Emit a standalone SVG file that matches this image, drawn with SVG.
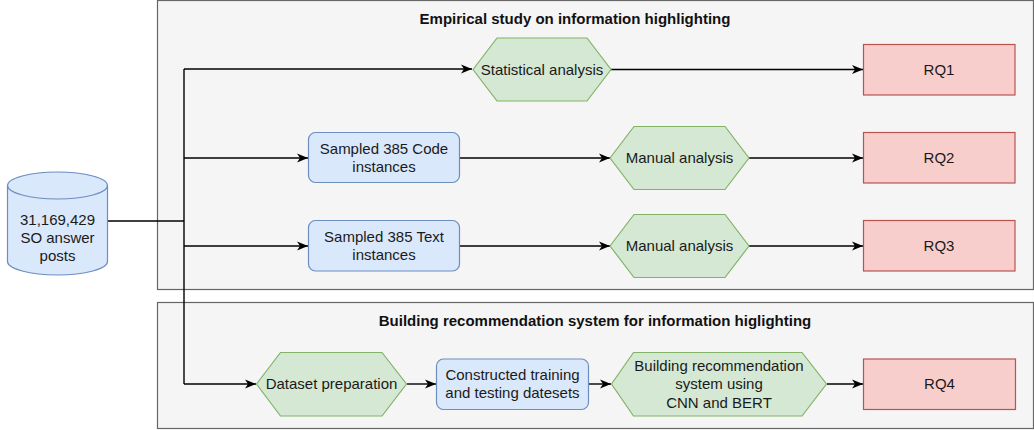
<svg xmlns="http://www.w3.org/2000/svg" width="1034" height="430" viewBox="0 0 1034 430">
<style>
text{font-family:"Liberation Sans",Arial,sans-serif;font-size:15px;fill:#1a1a1a;text-anchor:middle}
.title{font-weight:bold;font-size:15px;fill:#111}
.cont{fill:#f5f5f5;stroke:#666666;stroke-width:1.2}
.blue{fill:#dae8fc;stroke:#6c8ebf;stroke-width:1.2}
.green{fill:#d5e8d4;stroke:#82b366;stroke-width:1.2}
.red{fill:#f8cecc;stroke:#b85450;stroke-width:1.2}
.edge{fill:none;stroke:#000;stroke-width:1.4;}
.arr{marker-end:url(#ah)}
</style>
<defs>
<marker id="ah" markerUnits="userSpaceOnUse" markerWidth="12" markerHeight="10" refX="11" refY="5" orient="auto">
<path d="M0,0.5 L11,5 L0,9.5 L3,5 Z" fill="#000"/>
</marker>
</defs>
<rect width="1034" height="430" fill="#ffffff"/>
<g id="container-empirical">
<rect class="cont" x="157.5" y="0.5" width="876" height="289"/>
<text class="title" x="575" y="24">Empirical study on information highlighting</text>
</g>
<g id="container-building">
<rect class="cont" x="157.5" y="302.5" width="876" height="126"/>
<text class="title" x="595" y="326">Building recommendation system for information higlighting</text>
</g>
<g id="connectors">
<path class="edge" d="M108,221 H184"/>
<path class="edge" d="M184,384 V69"/>
<path class="edge arr" d="M184,69 H472"/>
<path class="edge arr" d="M184,158 H308"/>
<path class="edge arr" d="M184,246 H308"/>
<path class="edge arr" d="M184,384 H256"/>
<path class="edge arr" d="M611,69.5 H863"/>
<path class="edge arr" d="M459,158 H610"/>
<path class="edge arr" d="M749,158 H863"/>
<path class="edge arr" d="M459,246 H610"/>
<path class="edge arr" d="M749,246 H863"/>
<path class="edge arr" d="M407,384 H436"/>
<path class="edge arr" d="M588,384 H611"/>
<path class="edge arr" d="M827,384 H863"/>
</g>
<g id="so-posts">
<path class="blue" d="M7.5,185.5 A50,13.5 0 0 1 107.5,185.5 V261.5 A50,13.5 0 0 1 7.5,261.5 Z"/>
<path class="blue" style="fill:none" d="M7.5,185.5 A50,13.5 0 0 0 107.5,185.5"/>
<text x="57.5" y="224.5">31,169,429</text>
<text x="57.5" y="242.5">SO answer</text>
<text x="57.5" y="260.5">posts</text>
</g>
<g id="statistical-analysis">
<polygon class="green" points="473,69.5 497,38 587,38 611,69.5 587,101 497,101"/>
<text x="542" y="74.5">Statistical analysis</text>
</g>
<g id="rq1">
<rect class="red" x="863.5" y="44.5" width="151.5" height="50.5"/>
<text x="939" y="74.5">RQ1</text>
</g>
<g id="sampled-code">
<rect class="blue" x="308.5" y="132.5" width="151" height="50" rx="7"/>
<text x="384" y="153.5">Sampled 385 Code</text>
<text x="384" y="171.5">instances</text>
</g>
<g id="manual-analysis-1">
<polygon class="green" points="610,158 634,126.5 725,126.5 749,158 725,189.5 634,189.5"/>
<text x="679.5" y="163">Manual analysis</text>
</g>
<g id="rq2">
<rect class="red" x="863.5" y="132.5" width="151.5" height="50.5"/>
<text x="939" y="163">RQ2</text>
</g>
<g id="sampled-text">
<rect class="blue" x="308.5" y="220.5" width="151" height="50.5" rx="7"/>
<text x="384" y="241.5">Sampled 385 Text</text>
<text x="384" y="259.5">instances</text>
</g>
<g id="manual-analysis-2">
<polygon class="green" points="610,246 634,214.5 725,214.5 749,246 725,277.5 634,277.5"/>
<text x="679.5" y="251">Manual analysis</text>
</g>
<g id="rq3">
<rect class="red" x="863.5" y="220.5" width="151.5" height="50.5"/>
<text x="939" y="251">RQ3</text>
</g>
<g id="dataset-preparation">
<polygon class="green" points="256.5,384 280.5,352.5 382,352.5 406.5,384 382,416 280.5,416"/>
<text x="331.5" y="389">Dataset preparation</text>
</g>
<g id="constructed-datasets">
<rect class="blue" x="436.5" y="359" width="152" height="50.5" rx="7"/>
<text x="512.5" y="380">Constructed training</text>
<text x="512.5" y="398">and testing datesets</text>
</g>
<g id="building-system">
<polygon class="green" points="611.5,384 633.5,352.5 802,352.5 826.5,384 802,416 633.5,416"/>
<text x="719" y="371">Building recommendation</text>
<text x="719" y="389">system using</text>
<text x="719" y="407.5">CNN and BERT</text>
</g>
<g id="rq4">
<rect class="red" x="863.5" y="359" width="152" height="50.5"/>
<text x="939.5" y="389">RQ4</text>
</g>
</svg>
